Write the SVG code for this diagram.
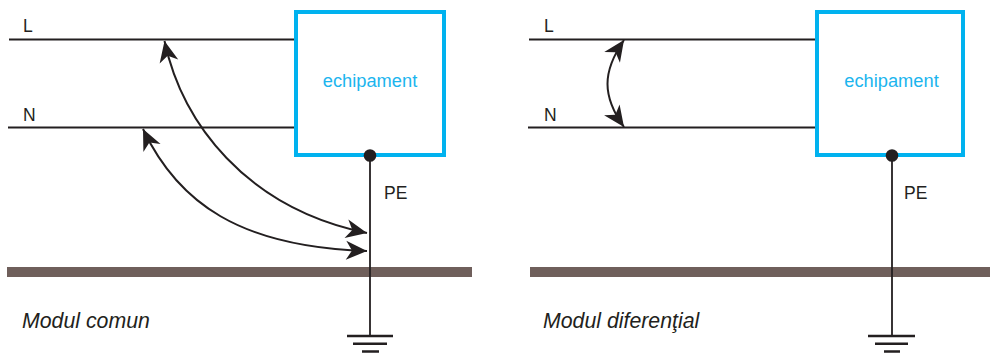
<svg xmlns="http://www.w3.org/2000/svg" width="990" height="353" viewBox="0 0 990 353">
<style>
.w{stroke:#231f20;stroke-width:1.8;fill:none}
.a{stroke:#231f20;stroke-width:2;fill:none;marker-start:url(#ah);marker-end:url(#ah)}
.bar{fill:#6f5f5b}
.box{fill:#fff;stroke:#00b2ef;stroke-width:4}
.dot{fill:#231f20}
.t{font-family:"Liberation Sans",Arial,sans-serif;font-size:17.500px;fill:#231f20}
.e{font-family:"Liberation Sans",Arial,sans-serif;font-size:18.300px;fill:#1cb5ee}
.m{font-family:"Liberation Sans",Arial,sans-serif;font-size:21.300px;font-style:italic;fill:#231f20}
.g{stroke:#231f20;stroke-width:2.600;fill:none}
</style>
<defs>
<marker id="ah" markerUnits="userSpaceOnUse" markerWidth="26" markerHeight="24" viewBox="-24 -12 26 24" refX="0" refY="0" orient="auto-start-reverse">
<path d="M0,0 L-21,-9.500 L-15,0 L-21,9.500 Z" fill="#231f20"/>
</marker>
</defs>
<g id="bar-left"><rect class="bar" x="7" y="267" width="465" height="10"/></g>
<g id="bar-right"><rect class="bar" x="530" y="267" width="460" height="10"/></g>
<g id="connectors">
<path class="w" d="M9 39.500H297"/>
<path class="w" d="M8 127.500H297"/>
<path class="w" d="M370 156V336"/>
<path class="w" d="M529 39.500H817"/>
<path class="w" d="M528 127.500H817"/>
<path class="w" d="M892 156V336"/>
<path class="a" d="M164.500 41C182 122 245 208 367 233"/>
<path class="a" d="M143 129C178 203 240 247 367 251"/>
<path class="a" d="M624 40C602 72 602 96 624 127"/>
</g>
<g id="equipment-left"><rect class="box" x="296" y="12" width="148" height="143"/><text class="e" x="370" y="87" text-anchor="middle">echipament</text></g>
<g id="equipment-right"><rect class="box" x="817" y="12" width="146" height="143"/><text class="e" x="891.500" y="87" text-anchor="middle">echipament</text></g>
<g id="pe-left"><circle class="dot" cx="370" cy="155.500" r="6.300"/><text class="t" x="384" y="199">PE</text></g>
<g id="pe-right"><circle class="dot" cx="892" cy="155.500" r="6.300"/><text class="t" x="904" y="199">PE</text></g>
<g id="ground-left"><path class="g" d="M347 336H393M353 343.700H387M362 351.500H379"/></g>
<g id="ground-right"><path class="g" d="M868 336H915M875 343.700H908M884 351.500H900"/></g>
<g id="labels">
<text class="t" x="23" y="32">L</text>
<text class="t" x="23" y="121">N</text>
<text class="t" x="544" y="32">L</text>
<text class="t" x="544" y="121">N</text>
<text class="m" x="22" y="328">Modul comun</text>
<text class="m" x="543" y="328">Modul diferenţial</text>
</g>
</svg>
